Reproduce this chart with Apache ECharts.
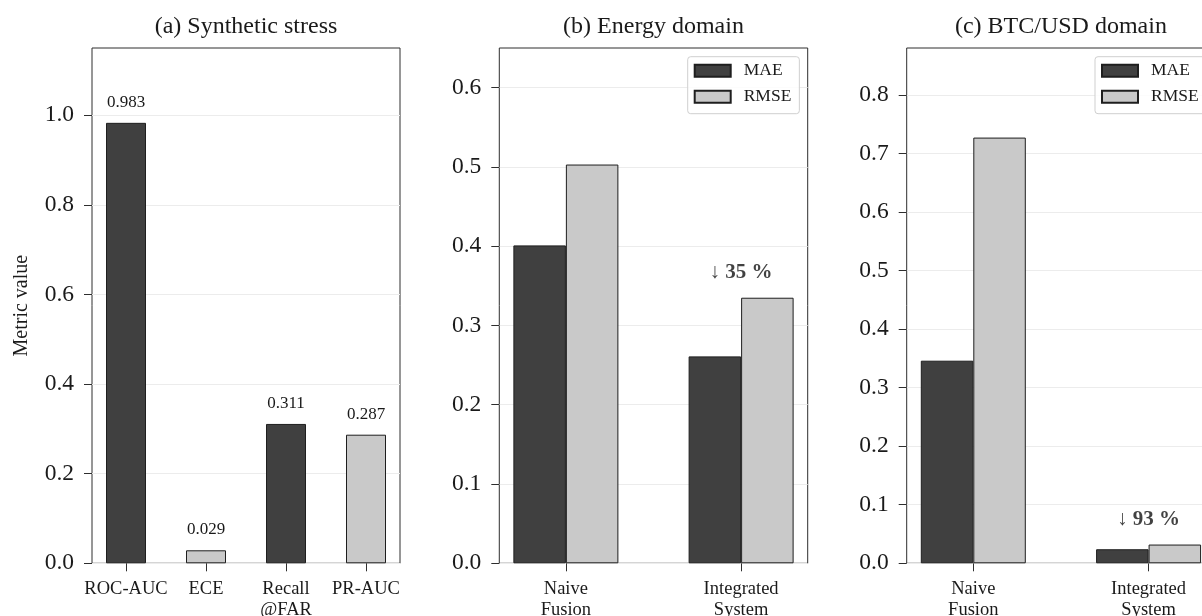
<!DOCTYPE html>
<html>
<head>
<meta charset="utf-8">
<script src="https://cdn.jsdelivr.net/npm/echarts@6/dist/echarts.min.js"></script>
<style>html,body{margin:0;padding:0;background:#fff}#c{width:1202px;height:616px}</style>
</head>
<body>
<div id="c"></div>
<script>
// ---- data ----
const stressCategories = ['ROC-AUC', 'ECE', 'Recall\n@FAR', 'PR-AUC'];
const stressValues = [0.983, 0.029, 0.311, 0.287];
const domainCategories = ['Naive\nFusion', 'Integrated\nSystem'];
const seriesNames = ['MAE', 'RMSE'];
const energyMAE = [0.401, 0.261];
const energyRMSE = [0.503, 0.335];
const btcMAE = [0.346, 0.024];
const btcRMSE = [0.727, 0.032];
const stressTicks = [0, 0.2, 0.4, 0.6, 0.8, 1.0];
const energyTicks = [0, 0.1, 0.2, 0.3, 0.4, 0.5, 0.6];
const btcTicks = [0, 0.1, 0.2, 0.3, 0.4, 0.5, 0.6, 0.7, 0.8];
const titles = ['(a) Synthetic stress', '(b) Energy domain', '(c) BTC/USD domain'];

// ---- style ----
const FONT = '"Liberation Serif", "Times New Roman", "DejaVu Serif", serif';
const DARK = '#404040', LIGHT = '#c9c9c9', EDGE = '#1e1e1e', FRAME = '#2e2e2e', TXT = '#1a1a1a';
const stressColors = [DARK, LIGHT, DARK, LIGHT];

const grids = [
  {left: 92, top: 48, width: 308, height: 515.3},
  {left: 499.3, top: 48, width: 308.4, height: 515.3},
  {left: 906.7, top: 48, width: 308.5, height: 515.3}
];

const chart = echarts.init(document.getElementById('c'), null, {renderer: 'canvas'});

function yAxis(idx, max, ticks, name) {
  return {
    type: 'value', gridIndex: idx, min: 0, max: max, position: 'left',
    axisLine: {show: false, onZero: false},
    axisTick: {show: true, length: 8, customValues: ticks, lineStyle: {color: FRAME, width: 1}},
    axisLabel: {customValues: ticks, formatter: v => v.toFixed(1), fontFamily: FONT, fontSize: 23.5, color: TXT, margin: 18},
    splitLine: {show: true, lineStyle: {color: '#ececec', width: 1}},
    name: name || '', nameLocation: 'middle', nameGap: 60,
    nameTextStyle: {fontFamily: FONT, fontSize: 20, color: TXT}
  };
}
function xAxis(idx, min, max, cats) {
  const vals = cats.map((c, i) => i);
  return {
    type: 'value', gridIndex: idx, min: min, max: max, position: 'bottom',
    axisLine: {show: false, onZero: false},
    axisTick: {show: true, length: 8, customValues: vals, lineStyle: {color: FRAME, width: 1}},
    axisLabel: {customValues: vals, formatter: v => cats[Math.round(v)], fontFamily: FONT, fontSize: 18.5, lineHeight: 21, color: TXT, margin: 15},
    splitLine: {show: false}
  };
}
function pairSeries(idx, maeVals, rmseVals) {
  const mk = (name, vals, color) => ({
    type: 'bar', name: name, xAxisIndex: idx, yAxisIndex: idx,
    data: vals.map((v, i) => [i, v]),
    barWidth: 52.5, barGap: '0%',
    itemStyle: {color: color, borderColor: EDGE, borderWidth: 1}
  });
  const top = Math.max(maeVals[1], rmseVals[1]);
  const pct = Math.round((1 - maeVals[1] / maeVals[0]) * 100);
  return [
    mk('MAE', maeVals, DARK),
    mk('RMSE', rmseVals, LIGHT),
    {
      type: 'scatter', xAxisIndex: idx, yAxisIndex: idx, symbolSize: 1,
      itemStyle: {color: 'rgba(0,0,0,0)'}, silent: true, z: 5,
      data: [[1, top]],
      label: {show: true, position: 'top', distance: 14, formatter: '\u2193 ' + pct + ' %',
        fontFamily: FONT, fontSize: 21, fontWeight: 'bold', color: '#111'}
    }
  ];
}
function legend(left) {
  return {
    data: seriesNames, orient: 'vertical', left: left, top: 56.7,
    icon: 'rect', itemWidth: 36, itemHeight: 12, itemGap: 8,
    padding: [5, 8, 8, 6],
    borderColor: '#cfcfcf', borderWidth: 1, borderRadius: 3,
    backgroundColor: 'rgba(255,255,255,0.85)',
    selectedMode: false,
    textStyle: {fontFamily: FONT, fontSize: 17.5, color: TXT, lineHeight: 17, padding: [0, 0, 0, 8]}
  };
}

const option = {
  animation: false,
  backgroundColor: '#fff',
  title: titles.map((t, i) => ({
    text: t, left: grids[i].left + grids[i].width / 2, top: 15, textAlign: 'center', padding: 0,
    textStyle: {fontFamily: FONT, fontSize: 24, fontWeight: 'normal', color: TXT}
  })),
  legend: [legend(687.7), legend(1095)],
  grid: grids.map(g => Object.assign({show: true, borderColor: FRAME, borderWidth: 1, backgroundColor: 'transparent', containLabel: false, outerBoundsMode: 'none'}, g)),
  xAxis: [
    xAxis(0, -0.425, 3.425, stressCategories),
    xAxis(1, -0.38, 1.38, domainCategories),
    xAxis(2, -0.38, 1.38, domainCategories)
  ],
  yAxis: [
    yAxis(0, 1.15, stressTicks, 'Metric value'),
    yAxis(1, 0.65, energyTicks),
    yAxis(2, 0.88, btcTicks)
  ],
  series: [
    {
      type: 'bar', name: 'stress', xAxisIndex: 0, yAxisIndex: 0,
      data: stressValues.map((v, i) => [i, v]),
      barWidth: 40,
      itemStyle: {color: p => stressColors[p.dataIndex], borderColor: EDGE, borderWidth: 1},
      label: {show: true, position: 'top', distance: 12, formatter: p => p.value[1].toFixed(3),
        fontFamily: FONT, fontSize: 17, color: TXT}
    },
    ...pairSeries(1, energyMAE, energyRMSE),
    ...pairSeries(2, btcMAE, btcRMSE)
  ]
};
chart.setOption(option);
</script>
</body>
</html>
